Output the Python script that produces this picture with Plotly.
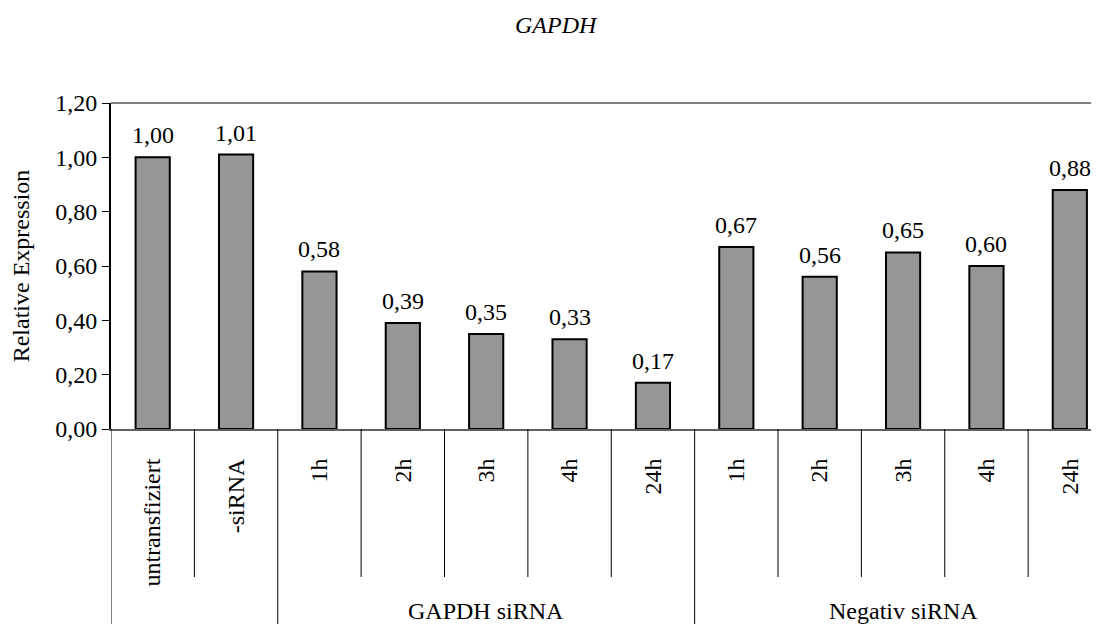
import plotly.graph_objects as go

labels = ["untransfiziert", "-siRNA", "1h", "2h", "3h", "4h", "24h", "1h", "2h", "3h", "4h", "24h"]
groups = ["", "", "GAPDH siRNA", "GAPDH siRNA", "GAPDH siRNA", "GAPDH siRNA", "GAPDH siRNA",
          "Negativ siRNA", "Negativ siRNA", "Negativ siRNA", "Negativ siRNA", "Negativ siRNA"]
values = [1.00, 1.01, 0.58, 0.39, 0.35, 0.33, 0.17, 0.67, 0.56, 0.65, 0.60, 0.88]

font = "Liberation Serif, Times New Roman, serif"
fs = 24
xs = list(range(len(values)))

bar = go.Bar(
    x=xs,
    y=values,
    width=0.41,
    marker=dict(color="#969696", line=dict(color="black", width=2)),
    hoverinfo="skip",
)

fig = go.Figure(data=[bar])

# divider lines below the axis (short within a group, long between groups)
short_end = -0.454
long_end = -0.65
shapes = [dict(type="line", xref="x", yref="paper", x0=-0.5, x1=-0.5, y0=0, y1=long_end,
               line=dict(color="black", width=1))]
for i in range(1, len(groups)):
    end = long_end if groups[i] != groups[i - 1] else short_end
    shapes.append(dict(type="line", xref="x", yref="paper", x0=i - 0.5, x1=i - 0.5, y0=0, y1=end,
                       line=dict(color="black", width=1)))
# plot area top border
shapes.append(dict(type="line", xref="paper", yref="paper", x0=0, x1=1, y0=1, y1=1,
                   line=dict(color="#808080", width=2)))

annotations = []
# value labels above bars
for x, v in zip(xs, values):
    annotations.append(dict(x=x, y=v, xref="x", yref="y", text=f"{v:.2f}".replace(".", ","),
                            showarrow=False, yanchor="bottom", yshift=7,
                            font=dict(family=font, size=fs, color="black")))
# group labels
seen = []
for g in groups:
    if g and g not in seen:
        seen.append(g)
        idx = [i for i, gg in enumerate(groups) if gg == g]
        annotations.append(dict(x=sum(idx) / len(idx), y=-0.558, xref="x", yref="paper",
                                text=g, showarrow=False, yanchor="middle",
                                font=dict(family=font, size=fs, color="black")))

fig.update_layout(
    width=1091,
    height=616,
    margin=dict(l=103, r=0, t=95, b=195),
    plot_bgcolor="white",
    paper_bgcolor="white",
    separators=",.",
    showlegend=False,
    font=dict(family=font, size=fs, color="black"),
    title=dict(text="<i>GAPDH</i>", x=0.502, xref="container", y=1 - 17 / 616, yref="container",
               xanchor="center", yanchor="middle", font=dict(family=font, size=fs, color="black")),
    shapes=shapes,
    annotations=annotations,
)

fig.update_xaxes(
    range=[-0.5, 11.35],
    tickvals=xs,
    ticktext=labels,
    tickangle=-90,
    ticks="",
    ticklabelstandoff=18,
    showline=True,
    linecolor="#606060",
    linewidth=2,
    showgrid=False,
    zeroline=False,
    tickfont=dict(family=font, size=fs, color="black"),
)

fig.update_yaxes(
    range=[0, 1.2],
    dtick=0.2,
    tickformat=".2f",
    ticks="outside",
    ticklen=7,
    tickcolor="black",
    showline=True,
    linecolor="black",
    linewidth=2,
    showgrid=False,
    zeroline=False,
    tickfont=dict(family=font, size=fs, color="black"),
    title=dict(text="Relative Expression", standoff=23, font=dict(family=font, size=fs, color="black")),
)

fig.write_html("out.html")
